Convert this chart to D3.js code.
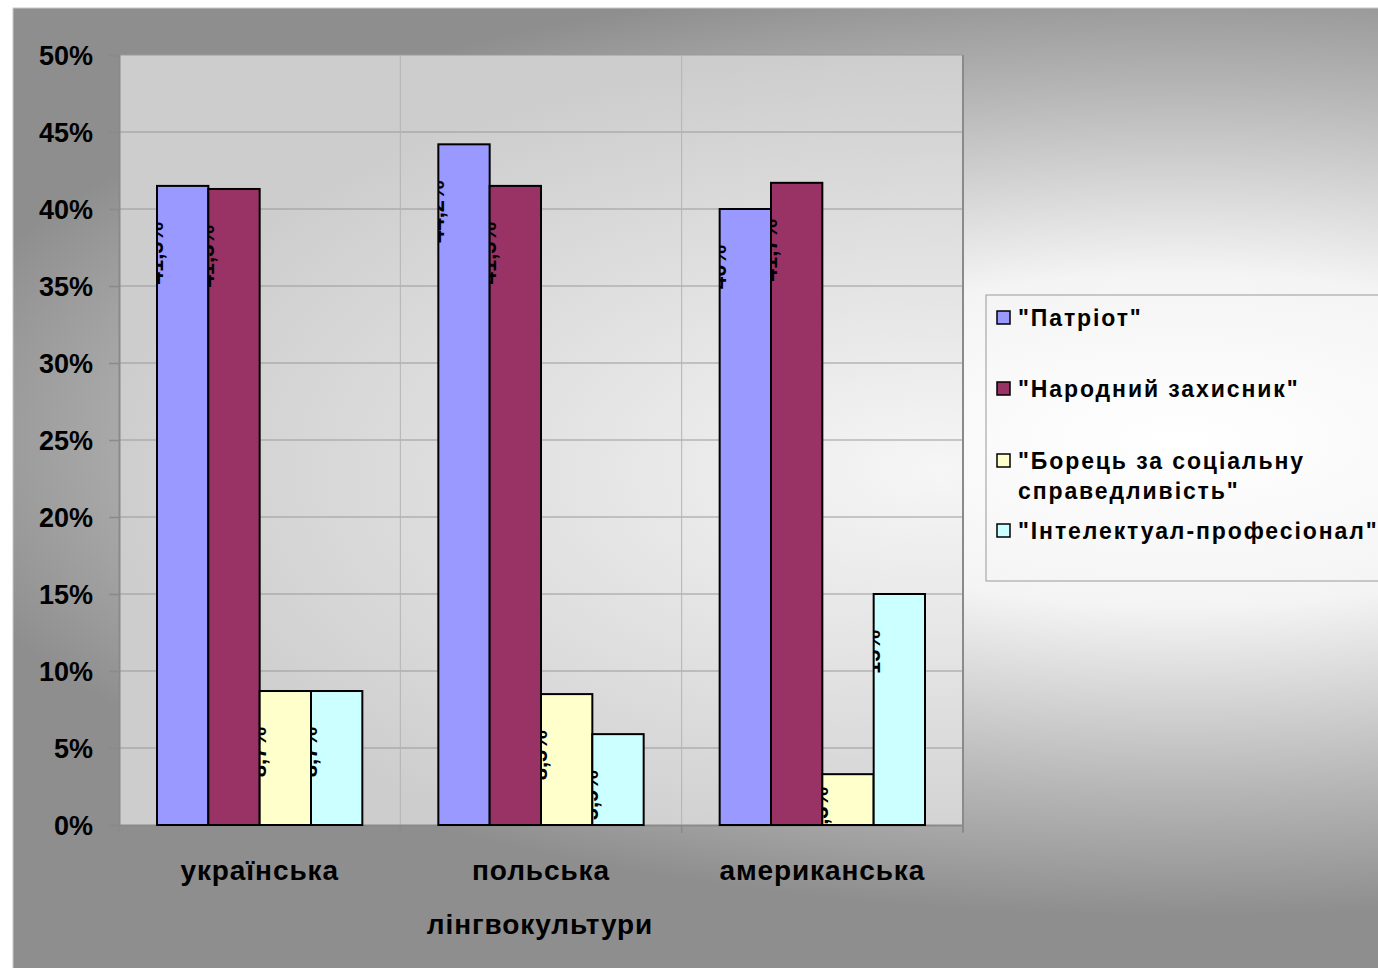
<!DOCTYPE html>
<html><head><meta charset="utf-8">
<script src="https://cdn.jsdelivr.net/npm/d3@7"></script>
<style>
html,body{margin:0;padding:0;background:#fff;overflow:hidden}
svg{display:block}
text{font-family:"Liberation Sans",Arial,sans-serif;font-weight:bold;fill:#000}
</style></head>
<body>
<svg id="chart" width="1378" height="968"></svg>
<script>
const categories = ["українська", "польська", "американська"];
const seriesNames = ["\"Патріот\"", "\"Народний захисник\"", "\"Борець за соціальну справедливість\"", "\"Інтелектуал-професіонал\""];
const patriot = [41.5, 44.2, 40.0];
const narodnyi = [41.3, 41.5, 41.7];
const borets = [8.7, 8.5, 3.3];
const intelektual = [8.7, 5.9, 15.0];
const yTicks = [0, 5, 10, 15, 20, 25, 30, 35, 40, 45, 50];
const axisTitle = "лінгвокультури";
const colors = ["#9999ff", "#993366", "#ffffcc", "#ccffff"];
const legendLines = [["\"Патріот\""], ["\"Народний захисник\""], ["\"Борець за соціальну", "справедливість\""], ["\"Інтелектуал-професіонал\""]];

(function(){
const values = [patriot, narodnyi, borets, intelektual];
const svg = d3.select("#chart");
const defs = svg.append("defs");

const bg = defs.append("radialGradient").attr("id","bgGrad")
  .attr("gradientUnits","userSpaceOnUse")
  .attr("cx",1180).attr("cy",440).attr("r",560).attr("fx",1180).attr("fy",440)
  .attr("gradientTransform","translate(1180,440) scale(2.3,0.85) translate(-1180,-440)");
bg.append("stop").attr("offset","0%").attr("stop-color","#ffffff");
bg.append("stop").attr("offset","35%").attr("stop-color","#f4f4f4");
bg.append("stop").attr("offset","75%").attr("stop-color","#b4b4b4");
bg.append("stop").attr("offset","100%").attr("stop-color","#8e8e8e");

const pg = defs.append("radialGradient").attr("id","plotGrad")
  .attr("gradientUnits","userSpaceOnUse")
  .attr("cx",940).attr("cy",470).attr("r",420)
  .attr("gradientTransform","translate(940,470) scale(2.0,1.0) translate(-940,-470)");
pg.append("stop").attr("offset","0%").attr("stop-color","#f6f6f6");
pg.append("stop").attr("offset","100%").attr("stop-color","#cdcdcd");

svg.append("rect").attr("x",13).attr("y",8).attr("width",1400).attr("height",1000)
  .attr("fill","url(#bgGrad)").attr("stroke","#c8c8c8").attr("stroke-width",1);

const pLeft = 119, pRight = 963, pTop = 55, pBottom = 825;
const y = d3.scaleLinear().domain([0, 50]).range([pBottom, pTop]);
const x0 = d3.scaleBand().domain(categories).range([pLeft, pRight]).padding(0);
const x1 = d3.scaleBand().domain(d3.range(seriesNames.length)).range([38, x0.bandwidth() - 38]).padding(0);

svg.append("rect").attr("x",pLeft).attr("y",pTop).attr("width",pRight-pLeft).attr("height",pBottom-pTop)
  .attr("fill","url(#plotGrad)");

svg.append("g").selectAll("line").data(yTicks.filter(d=>d>0)).join("line")
  .attr("x1",pLeft).attr("x2",pRight).attr("y1",d=>y(d)).attr("y2",d=>y(d))
  .attr("stroke","#9a9a9a").attr("stroke-width",1.2);
svg.append("g").selectAll("line").data(categories.slice(1)).join("line")
  .attr("x1",d=>x0(d)).attr("x2",d=>x0(d)).attr("y1",pTop).attr("y2",pBottom)
  .attr("stroke","#b4b4b4").attr("stroke-width",1);
svg.append("line").attr("x1",pRight).attr("x2",pRight).attr("y1",pTop).attr("y2",pBottom+7)
  .attr("stroke","#8a8a8a").attr("stroke-width",2);

const yAxis = svg.append("g").attr("transform",`translate(${pLeft},0)`)
  .call(d3.axisLeft(y).tickValues(yTicks).tickFormat(d=>d+"%").tickSize(10).tickPadding(16));
yAxis.select(".domain").attr("stroke","#8a8a8a").attr("stroke-width",2);
yAxis.selectAll(".tick line").attr("stroke","#8a8a8a").attr("stroke-width",1.5);
yAxis.selectAll(".tick text").attr("font-size",27).attr("font-family","Liberation Sans, Arial, sans-serif")
  .attr("font-weight","bold").attr("fill","#000").attr("dy","0.36em");

const xAxis = svg.append("g").attr("transform",`translate(0,${pBottom})`)
  .call(d3.axisBottom(x0).tickSize(0).tickPadding(35));
xAxis.select(".domain").attr("stroke","#8a8a8a").attr("stroke-width",2);
xAxis.selectAll(".tick text").attr("font-size",28).attr("font-family","Liberation Sans, Arial, sans-serif")
  .attr("font-weight","bold").attr("fill","#000").attr("dy","0.71em").attr("letter-spacing","0.9px");
const boundaries = categories.map(c=>x0(c)).concat([x0(categories[categories.length-1]) + x0.bandwidth()]);
svg.append("g").selectAll("line").data(boundaries).join("line")
  .attr("x1",d=>d).attr("x2",d=>d).attr("y1",pBottom).attr("y2",pBottom+8)
  .attr("stroke","#8a8a8a").attr("stroke-width",1.5);

svg.append("text").attr("x",(pLeft+pRight)/2 - 1).attr("y",934).attr("text-anchor","middle")
  .attr("font-size",28).attr("letter-spacing","0.9px").text(axisTitle);

const rows = [];
categories.forEach((c,ci)=>values.forEach((arr,si)=>rows.push({c, ci, si, v: arr[ci]})));
const barX = d=>x0(d.c) + x1(d.si);

rows.forEach((d,i)=>{
  defs.append("clipPath").attr("id","clip"+i).append("rect")
    .attr("x",barX(d)).attr("y",y(d.v)).attr("width",x1.bandwidth()).attr("height",y(0)-y(d.v));
});

svg.append("g").selectAll("rect").data(rows).join("rect")
  .attr("x",barX).attr("y",d=>y(d.v)).attr("width",x1.bandwidth()).attr("height",d=>y(0)-y(d.v))
  .attr("fill",d=>colors[d.si]).attr("stroke","#000").attr("stroke-width",2);

const fmt = v => d3.format(".1f")(v).replace(".", ",").replace(",0","") + "%";
const labels = svg.append("g").selectAll("g").data(rows).join("g")
  .attr("clip-path",(d,i)=>`url(#clip${i})`)
  .append("text")
  .attr("text-anchor","end").attr("font-size",22)
  .text(d=>fmt(d.v));
labels.each(function(d){
  const len = this.getComputedTextLength();
  const endY = Math.min(y(d.v) + 36, pBottom - len + 12);
  d3.select(this).attr("transform",`translate(${barX(d)+6},${endY}) rotate(-90)`);
});

const lg = svg.append("g");
lg.append("rect").attr("x",986).attr("y",295).attr("width",420).attr("height",286)
  .attr("fill","none").attr("stroke","#a8a8a8").attr("stroke-width",1.2);
const legendY = [318, 389, 461, 531];
seriesNames.forEach((name,i)=>{
  lg.append("rect").attr("x",997).attr("y",legendY[i]-7).attr("width",13).attr("height",13)
    .attr("fill",colors[i]).attr("stroke","#000").attr("stroke-width",1.5);
  const t = lg.append("text").attr("x",1018).attr("y",legendY[i]+8).attr("font-size",23).attr("letter-spacing","1.9px");
  legendLines[i].forEach((ln,k)=>{
    t.append("tspan").attr("x",1018).attr("dy",k===0?0:30).text(ln);
  });
});
})();
</script>
</body></html>
